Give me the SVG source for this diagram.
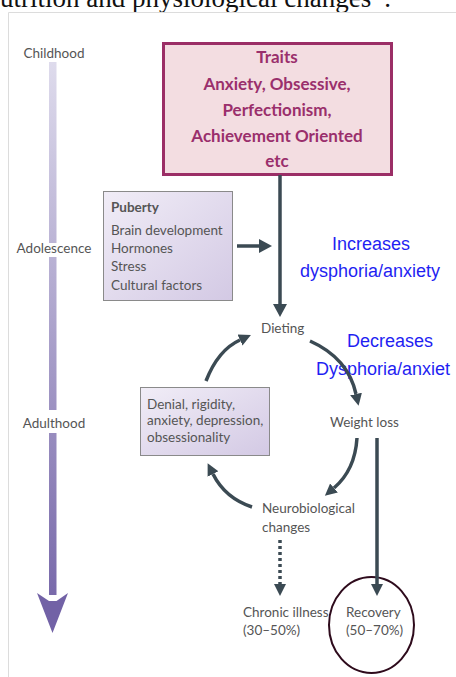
<svg xmlns="http://www.w3.org/2000/svg" width="456" height="677" viewBox="0 0 456 677">
<defs>
<linearGradient id="bar" x1="0" y1="62" x2="0" y2="633" gradientUnits="userSpaceOnUse">
<stop offset="0" stop-color="#dedbec"/>
<stop offset="1" stop-color="#7262a6"/>
</linearGradient>
<linearGradient id="box" x1="0" y1="0" x2="1" y2="1">
<stop offset="0" stop-color="#f1edf7"/>
<stop offset="1" stop-color="#d3c9e4"/>
</linearGradient>
<marker id="ah" markerUnits="userSpaceOnUse" markerWidth="16" markerHeight="16" refX="0" refY="8" orient="auto" viewBox="0 0 16 16">
<path d="M0,2 L12,8 L0,14 z" fill="#3b4a53"/>
</marker>
<marker id="ahBig" markerUnits="userSpaceOnUse" markerWidth="16" markerHeight="18" refX="0" refY="9" orient="auto" viewBox="0 0 16 18">
<path d="M0,2 L13,9 L0,16 z" fill="#3b4a53"/>
</marker>
</defs>
<style>
.lbl{font-family:Lato,"Open Sans",sans-serif;font-size:13.5px;fill:#555}
.blue{font-family:"Liberation Sans",Arial,sans-serif;font-size:18px;fill:#1f1ff2}
.trait{font-family:Lato,"Liberation Sans",sans-serif;font-weight:bold;font-size:17px;fill:#9a2f6c;text-anchor:middle}
.con{fill:none;stroke:#3b4a53;stroke-width:3.5}
</style>
<rect width="456" height="677" fill="#fff"/>
<text x="0" y="6.5" font-family="'Liberation Serif','Times New Roman',serif" font-size="27" fill="#111">utrition and physiological changes<tspan font-size="13" dy="-9">41</tspan><tspan dy="9">.</tspan></text>
<path d="M8.5,677 V12.5 H456" fill="none" stroke="#dcdcdc" stroke-width="1"/>

<g id="timeline">
<rect x="49" y="62" width="7.5" height="181" fill="url(#bar)"/>
<rect x="49" y="257" width="7.5" height="153" fill="url(#bar)"/>
<rect x="49" y="433" width="7.5" height="162" fill="url(#bar)"/>
<path d="M37,593 L49,601 L56.5,601 L68,593 L52.5,633 z" fill="#7262a6"/>
<text class="lbl" x="54" y="58" text-anchor="middle">Childhood</text>
<text class="lbl" x="54" y="253" text-anchor="middle">Adolescence</text>
<text class="lbl" x="54" y="428" text-anchor="middle">Adulthood</text>
</g>

<g id="traits">
<rect x="163.5" y="43.5" width="228" height="131" fill="#f3dde1" stroke="#9b2e66" stroke-width="3"/>
<text class="trait" x="277" y="63">Traits</text>
<text class="trait" x="277" y="90">Anxiety, Obsessive,</text>
<text class="trait" x="277" y="116">Perfectionism,</text>
<text class="trait" x="277" y="142">Achievement Oriented</text>
<text class="trait" x="277" y="167">etc</text>
</g>

<g id="puberty">
<rect x="103.5" y="191.5" width="129" height="109" fill="url(#box)" stroke="#8a8a8a" stroke-width="1"/>
<text class="lbl" x="111" y="212" font-weight="bold" fill="#444">Puberty</text>
<text class="lbl" x="111" y="235">Brain development</text>
<text class="lbl" x="111" y="253">Hormones</text>
<text class="lbl" x="111" y="271">Stress</text>
<text class="lbl" x="111" y="290">Cultural factors</text>
</g>

<g id="denial">
<rect x="140.5" y="387.5" width="129" height="68" fill="url(#box)" stroke="#8a8a8a" stroke-width="1"/>
<text class="lbl" x="147" y="409">Denial, rigidity,</text>
<text class="lbl" x="147" y="425">anxiety, depression,</text>
<text class="lbl" x="147" y="442">obsessionality</text>
</g>

<g id="dieting"><text class="lbl" x="261" y="333">Dieting</text></g>
<g id="weightloss"><text class="lbl" x="330" y="427">Weight loss</text></g>
<g id="neuro">
<text class="lbl" x="262" y="513">Neurobiological</text>
<text class="lbl" x="262" y="532">changes</text>
</g>
<g id="chronic">
<text class="lbl" x="243" y="617">Chronic illness</text>
<text class="lbl" x="243" y="635">(30–50%)</text>
</g>
<g id="recovery">
<ellipse cx="371.5" cy="625" rx="42.5" ry="48" fill="none" stroke="#2e0b1c" stroke-width="2"/>
<text class="lbl" x="346" y="617">Recovery</text>
<text class="lbl" x="346" y="635">(50–70%)</text>
</g>

<g id="notes">
<text class="blue" x="371" y="250" text-anchor="middle">Increases</text>
<text class="blue" x="370" y="277" text-anchor="middle">dysphoria/anxiety</text>
<text class="blue" x="347" y="347">Decreases</text>
<text class="blue" x="316" y="375">Dysphoria/anxiet</text>
</g>

<g id="connectors">
<line class="con" x1="280" y1="175" x2="280" y2="304" stroke-width="4" marker-end="url(#ahBig)"/>
<line class="con" x1="237" y1="246" x2="259" y2="246" stroke-width="4" marker-end="url(#ahBig)"/>
<path class="con" d="M310,341 Q348,358 356,394" marker-end="url(#ah)"/>
<path class="con" d="M357,438 Q355,470 334,488" marker-end="url(#ah)"/>
<path class="con" d="M252,507 Q225,498 213,474" marker-end="url(#ah)"/>
<path class="con" d="M206,381 Q218,350 240,340" marker-end="url(#ah)"/>
<line class="con" x1="377" y1="438" x2="377" y2="584" stroke-width="3" marker-end="url(#ah)"/>
<line class="con" x1="280" y1="540" x2="280" y2="584" stroke-dasharray="3,3" marker-end="url(#ah)"/>
</g>
</svg>
